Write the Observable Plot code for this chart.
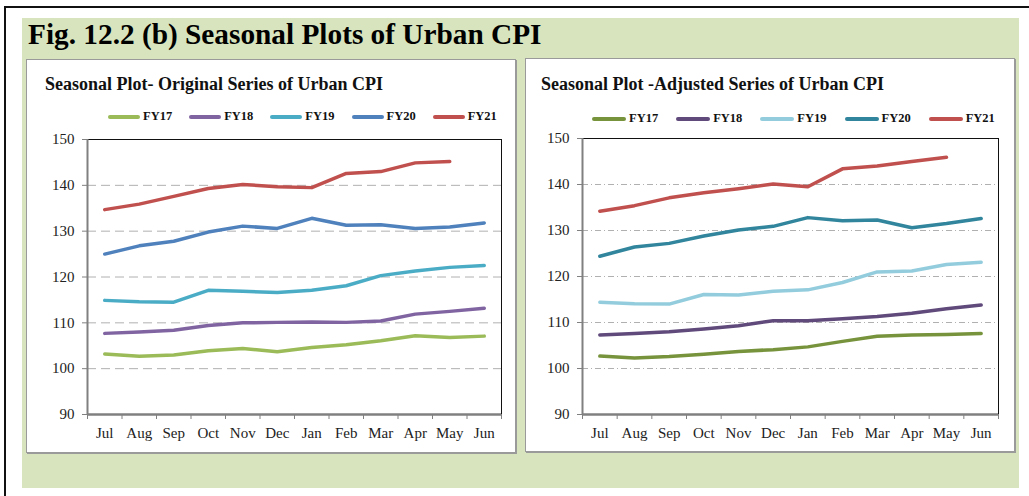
<!DOCTYPE html>
<html><head><meta charset="utf-8">
<script src="https://cdn.jsdelivr.net/npm/d3@7"></script>
<script src="https://cdn.jsdelivr.net/npm/@observablehq/plot@0.6"></script>
<style>
body{margin:0;background:#fff;font-family:"Liberation Serif","Times New Roman",serif;}
#page{position:relative;width:1029px;height:496px;overflow:hidden;background:#fff;}
#outer{position:absolute;left:4px;top:6px;width:1040px;height:500px;border-top:2px solid #111;border-left:2px solid #111;}
#green{position:absolute;left:22px;top:18px;width:997px;height:470px;background:#d7e4bd;}
#title{position:absolute;left:28px;top:18px;font-size:29.3px;font-weight:bold;color:#000;white-space:nowrap;}
.panel{position:absolute;background:#fff;border:1px solid #9a9a9a;box-shadow:1px 1px 0 #9a9a9a;}
.ptitle{position:absolute;font-size:18px;font-weight:bold;color:#111;white-space:nowrap;}
.legend{position:absolute;display:flex;align-items:center;font-size:12.5px;font-weight:bold;color:#111;white-space:nowrap;}
.legend .item{display:flex;align-items:center;}
.legend .sw{display:inline-block;height:4px;border-radius:2px;margin-right:3px;}
.plotbox{position:absolute;}
</style>
</head><body>
<div id="page">
  <div id="outer"></div>
  <div id="green"></div>
  <div id="title">Fig. 12.2 (b) Seasonal Plots of Urban CPI</div>
  <div class="panel" style="left:26px;top:59px;width:488px;height:392px;"></div>
  <div class="panel" style="left:525px;top:58px;width:488px;height:392px;"></div>
  <div class="ptitle" style="left:45px;top:74px;">Seasonal Plot- Original Series of Urban CPI</div>
  <div class="ptitle" style="left:541px;top:74px;">Seasonal Plot -Adjusted Series of Urban CPI</div>
  <div class="legend" id="leg1" style="left:108px;top:109px;gap:17px;"></div>
  <div class="legend" id="leg2" style="left:592px;top:111px;gap:18px;"></div>
  <div class="plotbox" id="p1" style="left:40px;top:125px;"></div>
  <div class="plotbox" id="p2" style="left:535px;top:124px;"></div>
</div>
<script>
const months = ["Jul","Aug","Sep","Oct","Nov","Dec","Jan","Feb","Mar","Apr","May","Jun"];
const years = ["FY17","FY18","FY19","FY20","FY21"];
const yTicks = [90,100,110,120,130,140,150];

// Original series
const origFY17 = [103.2,102.7,103.0,103.9,104.4,103.7,104.6,105.2,106.1,107.2,106.8,107.1];
const origFY18 = [107.7,108.0,108.4,109.4,110.0,110.1,110.2,110.1,110.4,111.9,112.5,113.2];
const origFY19 = [114.9,114.6,114.5,117.1,116.9,116.6,117.1,118.1,120.3,121.3,122.1,122.5];
const origFY20 = [125.0,126.8,127.8,129.8,131.1,130.6,132.8,131.3,131.4,130.6,130.9,131.8];
const origFY21 = [134.7,135.9,137.6,139.3,140.2,139.7,139.5,142.6,143.0,144.9,145.2,null];

// Seasonally adjusted series
const adjFY17 = [102.7,102.3,102.6,103.1,103.7,104.1,104.7,105.9,107.0,107.3,107.4,107.6];
const adjFY18 = [107.3,107.6,108.0,108.6,109.3,110.4,110.4,110.8,111.3,112.0,113.0,113.8];
const adjFY19 = [114.4,114.1,114.0,116.1,116.0,116.8,117.1,118.7,121.0,121.2,122.6,123.1];
const adjFY20 = [124.4,126.4,127.2,128.8,130.1,130.9,132.8,132.1,132.3,130.6,131.5,132.6];
const adjFY21 = [134.2,135.4,137.1,138.2,139.1,140.1,139.5,143.4,144.0,145.0,145.9,null];

const colorsOrig = ["#9bbb59","#8064a2","#4bacc6","#4f81bd","#c0504d"];
const colorsAdj  = ["#77933c","#604a7b","#93cddd","#31859c","#c0504d"];

function toRows(seriesList){
  const rows = [];
  seriesList.forEach((vals, k) => vals.forEach((v, i) => { if (v != null) rows.push({year: years[k], i, v}); }));
  return rows;
}

function legend(id, colors, swW){
  const el = document.getElementById(id);
  years.forEach((y, k) => {
    const it = document.createElement("div"); it.className = "item";
    const sw = document.createElement("span"); sw.className = "sw";
    sw.style.width = swW + "px"; sw.style.background = colors[k];
    it.appendChild(sw);
    it.appendChild(document.createTextNode(y));
    el.appendChild(it);
  });
}

function chart(rows, colors, dash, w, h, mb){
  return Plot.plot({
    width: w, height: h,
    marginLeft: 47, marginRight: 9, marginTop: 14, marginBottom: mb,
    style: {background: "transparent", fontFamily: "Liberation Serif, Times New Roman, serif", fontSize: "15px", color: "#222"},
    x: {domain: [-0.5, 11.5], label: null},
    y: {domain: [90, 150], label: null},
    color: {domain: years, range: colors},
    marks: [
      Plot.ruleY(yTicks.slice(1, -1), {stroke: "#b0b0b0", strokeWidth: 1, strokeDasharray: dash}),
      Plot.frame({stroke: "#111", strokeWidth: 1}),
      Plot.ruleX([-0.5], {stroke: "#808080", strokeWidth: 2}),
      Plot.ruleY([90], {stroke: "#808080", strokeWidth: 2.5}),
      Plot.axisY({ticks: yTicks, tickSize: 5, tickPadding: 8, stroke: "#808080", fill: "#222", fontSize: 15}),
      Plot.axisX({ticks: d3.range(-0.5, 12, 1), tickSize: 5, stroke: "#808080", tickFormat: () => ""}),
      Plot.axisX({ticks: d3.range(12), tickSize: 0, tickPadding: 13, tickFormat: i => months[i], fill: "#222", fontSize: 15}),
      Plot.line(rows, {x: "i", y: "v", z: "year", stroke: "year", strokeWidth: 3.5, strokeLinejoin: "round", strokeLinecap: "round"})
    ]
  });
}

legend("leg1", colorsOrig, 32);
legend("leg2", colorsAdj, 34);
document.getElementById("p1").appendChild(
  chart(toRows([origFY17, origFY18, origFY19, origFY20, origFY21]), colorsOrig, "9,5", 470, 325, 36));
document.getElementById("p2").appendChild(
  chart(toRows([adjFY17, adjFY18, adjFY19, adjFY20, adjFY21]), colorsAdj, "6,3,1,3", 472, 326, 36));
</script>
</body></html>
